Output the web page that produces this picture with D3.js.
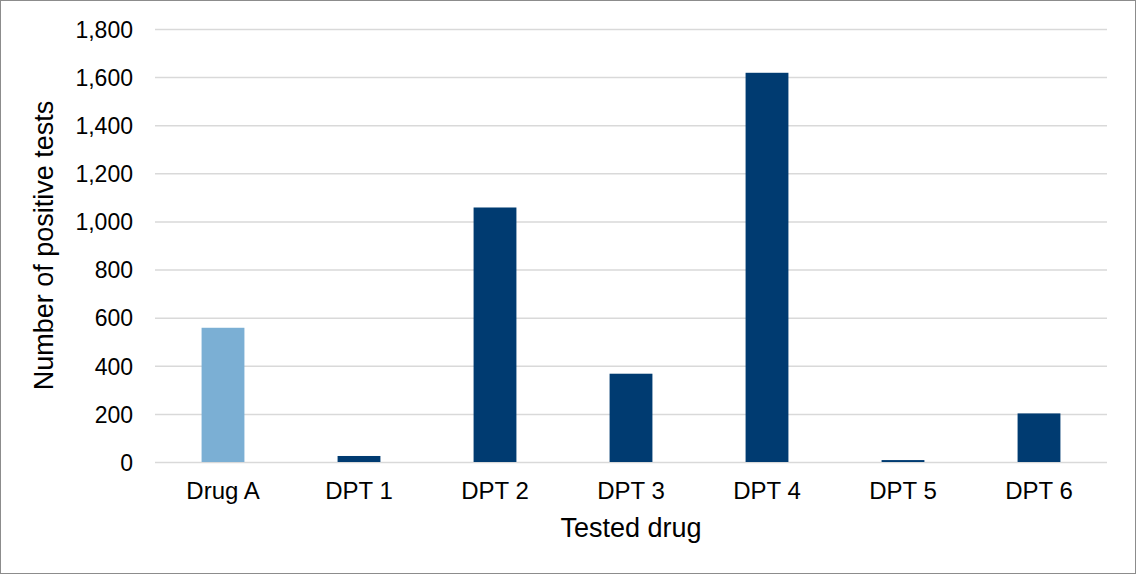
<!DOCTYPE html>
<html>
<head>
<meta charset="utf-8">
<script src="https://cdn.jsdelivr.net/npm/d3@7"></script>
<style>
  body { margin: 0; background: #fff; }
  text { font-family: "Liberation Sans", Arial, sans-serif; fill: #000; }
</style>
</head>
<body>
<div id="chart"></div>
<script>
// values
var drugs = ["Drug A", "DPT 1", "DPT 2", "DPT 3", "DPT 4", "DPT 5", "DPT 6"];
var positiveTests = [558, 25, 1058, 367, 1618, 8, 202];
var yTicks = [0, 200, 400, 600, 800, 1000, 1200, 1400, 1600, 1800];

var outerWidth = 1136;
var outerHeight = 574;

var margin = {top: 29, right: 29, bottom: 112, left: 155}
    , width = outerWidth - margin.left - margin.right
    , height = outerHeight - margin.top - margin.bottom;

var root = d3.select("#chart")
    .append("svg")
    .attr("width", outerWidth)
    .attr("height", outerHeight);

// outer frame
root.append("rect")
    .attr("x", 0.5)
    .attr("y", 0.5)
    .attr("width", outerWidth - 1)
    .attr("height", outerHeight - 1)
    .attr("fill", "#fff")
    .attr("stroke", "#8c8c8c");

var svg = root.append("g")
    .attr("transform", "translate(" + margin.left + "," + margin.top + ")");

var xScale = d3.scaleBand()
    .domain(drugs)
    .range([0, width])
    .paddingInner(0.685)
    .paddingOuter(0.3425);

var yScale = d3.scaleLinear()
    .domain([0, 1800])
    .range([height, 0]);

// gridlines
svg.append("g")
    .attr("class", "grid")
    .call(d3.axisLeft(yScale).tickValues(yTicks).tickSize(-width).tickFormat(""))
    .call(g => g.select(".domain").remove())
    .call(g => g.selectAll("line").attr("stroke", "#d9d9d9").attr("stroke-width", 1.5));

// y tick labels
svg.append("g")
    .attr("class", "axis y-axis")
    .call(d3.axisLeft(yScale).tickValues(yTicks).tickSize(0).tickPadding(22).tickFormat(d3.format(",")))
    .call(g => g.select(".domain").remove())
    .call(g => g.selectAll("text").style("font-size", "23px").attr("dy", "0.36em"));

// bars
svg.selectAll(".bar")
    .data(drugs)
    .enter()
    .append("rect")
    .attr("class", "bar")
    .attr("x", d => xScale(d))
    .attr("width", xScale.bandwidth())
    .attr("y", (d, i) => yScale(positiveTests[i]))
    .attr("height", (d, i) => height - yScale(positiveTests[i]))
    .attr("fill", (d, i) => i == 0 ? "#7bafd4" : "#003b71");

// x tick labels
svg.append("g")
    .attr("class", "axis x-axis")
    .attr("transform", "translate(0," + height + ")")
    .call(d3.axisBottom(xScale).tickSize(0).tickPadding(20))
    .call(g => g.select(".domain").remove())
    .call(g => g.selectAll("text").style("font-size", "24px"));

// axis titles
svg.append("text")
    .attr("x", width / 2)
    .attr("y", height + 75)
    .attr("text-anchor", "middle")
    .style("font-size", "27px")
    .text("Tested drug");

svg.append("text")
    .attr("transform", "translate(" + (-102) + "," + (height / 2) + ") rotate(-90)")
    .attr("text-anchor", "middle")
    .style("font-size", "27px")
    .text("Number of positive tests");
</script>
</body>
</html>
